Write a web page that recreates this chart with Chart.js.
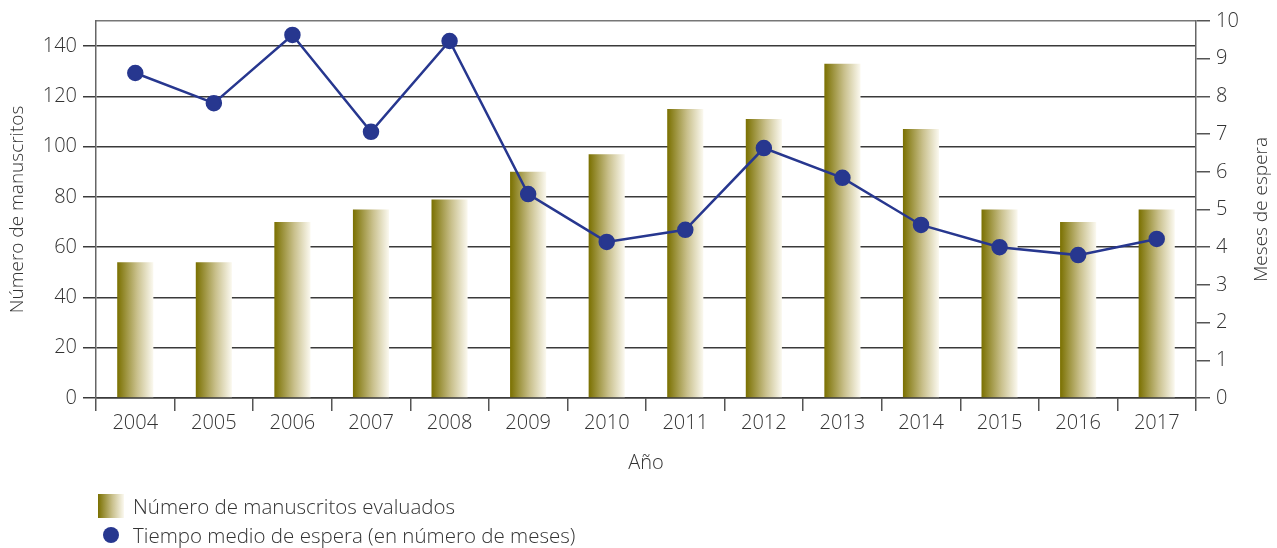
<!DOCTYPE html>
<html lang="es">
<head>
<meta charset="utf-8">
<title>Manuscritos evaluados y tiempo medio de espera</title>
<script src="https://cdn.jsdelivr.net/npm/chart.js@4/dist/chart.umd.min.js"></script>
<style>
    html, body { margin: 0; padding: 0; background: #fff; }
    #wrap { position: relative; width: 1277px; height: 548px; }
    #legend {
        position: absolute; left: 98px; top: 491px;
        font-family: 'Open Sans', 'Liberation Sans', sans-serif;
        font-weight: 300; font-size: 20.5px; color: #333;
    }
    .item { display: flex; align-items: center; height: 29px; }
    .swatch {
        width: 26px; height: 24px; margin-right: 9px;
        background: linear-gradient(to right, #7a7000, #c9c08c 55%, #fbf9f0);
    }
    .dot {
        width: 16px; height: 16px; border-radius: 50%; background: #27378f;
        margin: 0 14px 0 5px;
    }
</style>
</head>
<body>
<div id="wrap">
    <canvas id="chart" width="1277" height="548"></canvas>
    <div id="legend">
        <div class="item"><span class="swatch"></span>Número de manuscritos evaluados</div>
        <div class="item"><span class="dot"></span>Tiempo medio de espera (en número de meses)</div>
    </div>
</div>
<script>
// Datos
const years = ['2004', '2005', '2006', '2007', '2008', '2009', '2010',
               '2011', '2012', '2013', '2014', '2015', '2016', '2017'];
const manuscritos = [54, 54, 70, 75, 79, 90, 97, 115, 111, 133, 107, 75, 70, 75];
const mesesEspera = [8.62, 7.82, 9.63, 7.06, 9.47, 5.41, 4.14, 4.46, 6.63, 5.84, 4.59, 4.0, 3.79, 4.22];
const leftTicks = [0, 20, 40, 60, 80, 100, 120, 140];
const rightTicks = [0, 1, 2, 3, 4, 5, 6, 7, 8, 9, 10];

const FAMILY = "'Open Sans', 'Liberation Sans', sans-serif";
const FONT = { family: FAMILY, size: 20, weight: 300 };
const TEXT = '#333';
const BAR_PCT = 0.46;

/**
 * Degradado horizontal propio de cada barra
 */
function barGradient(context) {
    const chart = context.chart;
    const x = chart.scales.x;
    if (!x || context.dataIndex === undefined) return '#a89f50';
    const center = x.getPixelForValue(context.dataIndex);
    const half = (x.width / years.length) * BAR_PCT / 2;
    if (!isFinite(center) || !isFinite(half) || half <= 0) return '#a89f50';
    const g = chart.ctx.createLinearGradient(center - half, 0, center + half, 0);
    g.addColorStop(0, '#7a7000');
    g.addColorStop(0.55, '#c9c08c');
    g.addColorStop(1, '#fbf9f0');
    return g;
}

// Titulo del eje derecho, leido de abajo hacia arriba
const rightTitle = {
    id: 'rightTitle',
    afterDraw(chart) {
        const { ctx, chartArea } = chart;
        ctx.save();
        ctx.translate(1262, (chartArea.top + chartArea.bottom) / 2);
        ctx.rotate(-Math.PI / 2);
        ctx.fillStyle = TEXT;
        ctx.font = '300 19px ' + FAMILY;
        ctx.textAlign = 'center';
        ctx.textBaseline = 'middle';
        ctx.fillText('Meses de espera', 0, 0);
        ctx.restore();
    }
};

new Chart(document.getElementById('chart'), {
    data: {
        labels: years,
        datasets: [
            {
                type: 'line',
                label: 'Tiempo medio de espera (en número de meses)',
                data: mesesEspera,
                yAxisID: 'y1',
                borderColor: '#27378f',
                backgroundColor: '#27378f',
                borderWidth: 2.5,
                pointRadius: 7,
                pointHoverRadius: 7,
                tension: 0,
                order: 0
            },
            {
                type: 'bar',
                label: 'Número de manuscritos evaluados',
                data: manuscritos,
                yAxisID: 'y',
                backgroundColor: barGradient,
                borderWidth: 0,
                barPercentage: BAR_PCT,
                categoryPercentage: 1,
                order: 1
            }
        ]
    },
    plugins: [rightTitle],
    options: {
        responsive: false,
        animation: false,
        layout: { padding: { top: 21, bottom: 73, left: 0, right: 0 } },
        plugins: {
            legend: { display: false },
            tooltip: { enabled: false }
        },
        scales: {
            x: {
                offset: true,
                grid: {
                    offset: true,
                    drawOnChartArea: false,
                    color: '#555',
                    lineWidth: 1.5,
                    tickLength: 13
                },
                border: { color: '#3a3a3a', width: 1.5 },
                ticks: { color: TEXT, font: FONT, padding: 0, maxRotation: 0 },
                title: {
                    display: true, text: 'Año', color: TEXT, font: FONT,
                    padding: { top: 0, bottom: 0 }
                },
                afterFit: s => { s.height = 77; }
            },
            y: {
                position: 'left',
                min: 0,
                max: 150,
                afterBuildTicks: s => { s.ticks = leftTicks.map(v => ({ value: v })); },
                grid: {
                    color: '#3a3a3a',
                    lineWidth: 1.5,
                    tickLength: 13
                },
                border: { color: '#666', width: 1.5 },
                ticks: { color: TEXT, font: FONT, padding: 6 },
                title: {
                    display: true, text: 'Número de manuscritos', color: TEXT,
                    font: { ...FONT, size: 19 }, padding: { top: 6, bottom: 0 }
                },
                afterFit: s => { s.width = 96; }
            },
            y1: {
                position: 'right',
                min: 0,
                max: 10,
                afterBuildTicks: s => { s.ticks = rightTicks.map(v => ({ value: v })); },
                grid: {
                    color: ctx => (ctx.tick && ctx.tick.value === 10 ? '#777' : 'rgba(0,0,0,0)'),
                    tickColor: '#555',
                    lineWidth: 1.5,
                    tickLength: 14
                },
                border: { color: '#666', width: 1.5 },
                ticks: { color: TEXT, font: FONT, padding: 6 },
                afterFit: s => { s.width = 81; }
            }
        }
    }
});
</script>
</body>
</html>
